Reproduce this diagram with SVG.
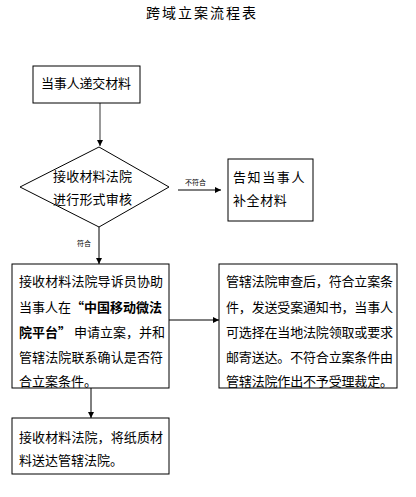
<svg xmlns="http://www.w3.org/2000/svg" width="416" height="497" viewBox="0 0 416 497">
<defs>
<marker id="ah" viewBox="0 0 10 10" refX="10" refY="5" markerWidth="6" markerHeight="6" markerUnits="userSpaceOnUse" orient="auto">
<path d="M0,0 L10,5 L0,10 z" fill="#000"/>
</marker>
</defs>
<style>
.box{fill:#fff;stroke:#000;stroke-width:1}
.t{font-family:"Noto Sans CJK SC","Noto Sans",sans-serif;font-size:13px;fill:#000}
.s{font-family:"Noto Sans CJK SC","Noto Sans",sans-serif;font-size:7px;fill:#000}
.c{fill:none;stroke:#000;stroke-width:1;marker-end:url(#ah)}
.b{font-weight:bold}
</style>
<rect width="416" height="497" fill="#fff"/>
<text x="202" y="18" text-anchor="middle" class="t" style="font-size:14px;letter-spacing:2px">跨域立案流程表</text>
<g id="connectors">
<line class="c" x1="100" y1="103" x2="100" y2="146" style="stroke:#777;stroke-width:1.5"/>
<line class="c" x1="178" y1="190" x2="221" y2="190"/>
<line class="c" x1="99" y1="227" x2="99" y2="264"/>
<line class="c" x1="169" y1="320" x2="219" y2="320"/>
<line class="c" x1="91" y1="388" x2="91" y2="418"/>
<text class="s" x="185" y="184.5">不符合</text>
<text class="s" x="77" y="245.5">符合</text>
</g>
<g id="n1">
<rect class="box" x="33" y="66" width="107" height="37"/>
<text class="t" x="41" y="88" textLength="90">当事人递交材料</text>
</g>
<g id="n2">
<polygon class="box" points="20,187 99,147 169,187 99,227"/>
<text class="t" x="53" y="181" textLength="79">接收材料法院</text>
<text class="t" x="53" y="204" textLength="79">进行形式审核</text>
</g>
<g id="n3">
<rect class="box" x="228" y="159" width="85" height="62"/>
<text class="t" x="233" y="182" style="letter-spacing:1.6px">告知当事人</text>
<text class="t" x="233" y="205" style="letter-spacing:0.6px">补全材料</text>
</g>
<g id="n4">
<rect class="box" x="12" y="264" width="157" height="124"/>
<text class="t" x="19" y="286" textLength="144">接收材料法院导诉员协助</text>
<text class="t" x="19" y="312">当事人在<tspan class="b">“中国移动微法</tspan></text>
<text class="t" x="19" y="337"><tspan class="b">院平台”</tspan> 申请立案，并和</text>
<text class="t" x="19" y="362" textLength="144">管辖法院联系确认是否符</text>
<text class="t" x="19" y="386">合立案条件。</text>
</g>
<g id="n5">
<rect class="box" x="219" y="264" width="178" height="124"/>
<text class="t" x="226" y="286" textLength="167">管辖法院审查后，符合立案条</text>
<text class="t" x="226" y="312" textLength="167">件，发送受案通知书，当事人</text>
<text class="t" x="226" y="337" textLength="167">可选择在当地法院领取或要求</text>
<text class="t" x="226" y="362" textLength="167">邮寄送达。不符合立案条件由</text>
<text class="t" x="226" y="386" textLength="167">管辖法院作出不予受理裁定。</text>
</g>
<g id="n6">
<rect class="box" x="12" y="418" width="157" height="56"/>
<text class="t" x="19" y="442" textLength="144">接收材料法院，将纸质材</text>
<text class="t" x="19" y="465">料送达管辖法院。</text>
</g>
</svg>
